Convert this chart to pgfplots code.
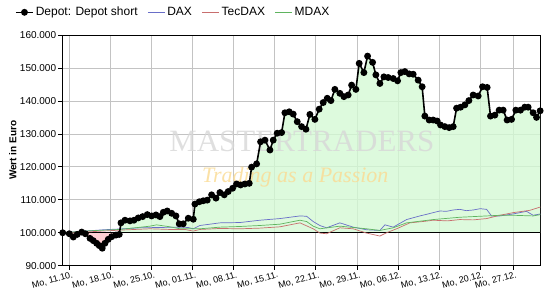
\documentclass[border=0pt]{standalone}
\usepackage{fontspec}
\setmainfont{Liberation Sans}
\newfontfamily\wmserif{Liberation Serif}
\usepackage{pgfplots}
\usepackage{pgfplotstable}
\pgfplotsset{compat=1.18}
\definecolor{gridgray}{RGB}{195,195,195}
\definecolor{posfill}{RGB}{212,249,212}
\definecolor{negfill}{RGB}{255,196,200}
\definecolor{daxc}{RGB}{105,110,200}
\definecolor{tecc}{RGB}{200,110,110}
\definecolor{mdaxc}{RGB}{95,180,95}
\definecolor{wmgray}{RGB}{215,215,215}
\definecolor{wmyellow}{RGB}{250,220,150}

\pgfplotstableread{
t v
-0.80 100.0
0.00 99.7
0.49 98.7
0.97 99.5
1.51 100.2
1.95 99.7
2.52 98.3
2.92 97.6
3.33 96.8
3.65 96.1
4.01 95.3
4.34 96.8
4.74 98.0
5.16 98.8
5.68 99.3
6.08 99.5
6.29 103.0
6.78 103.8
7.39 103.6
7.87 103.8
8.39 104.5
8.93 104.9
9.49 105.5
10.02 105.1
10.55 105.4
11.03 104.9
11.44 106.2
11.92 106.6
12.46 105.9
12.98 105.1
13.38 102.7
13.87 102.7
14.48 104.4
15.09 104.1
15.29 108.7
15.82 109.4
16.30 109.7
16.79 109.9
17.32 111.5
17.85 110.5
18.33 112.2
18.86 111.5
19.34 112.5
19.88 113.5
20.36 114.8
20.85 114.5
21.37 114.8
21.90 115.0
22.19 119.9
22.80 120.9
23.28 127.6
23.81 128.1
24.42 125.1
24.82 128.1
25.30 130.2
25.84 130.4
26.24 136.4
26.76 136.7
27.25 136.0
27.74 133.7
28.27 132.2
28.80 131.4
29.28 135.9
29.89 134.4
30.41 137.5
30.90 139.5
31.39 140.8
31.84 140.1
32.32 143.5
32.93 142.3
33.42 141.3
33.94 141.8
34.36 144.8
34.88 143.5
35.28 151.4
35.85 148.6
36.30 153.6
36.91 151.7
37.31 147.9
37.80 145.3
38.29 147.3
38.81 147.1
39.42 146.8
39.95 146.1
40.35 148.6
40.84 148.9
41.36 148.2
41.85 148.1
42.46 146.3
42.94 144.3
43.27 135.4
43.80 134.2
44.28 134.2
44.77 133.9
45.18 132.7
45.71 132.2
46.23 131.9
46.72 132.2
47.13 137.8
47.62 138.1
48.14 138.8
48.63 140.1
49.15 141.8
49.76 141.5
50.29 144.3
50.85 144.1
51.26 135.4
51.79 135.7
52.31 137.2
52.80 137.2
53.28 134.2
53.82 134.4
54.34 137.2
54.91 137.2
55.43 138.1
55.84 138.1
56.45 136.4
56.86 135.0
57.30 137.0
}\depot

\pgfplotstableread{
t v
-0.85 100.0
4.14 100.9
6.57 101.2
8.60 101.5
11.03 101.6
13.47 101.7
14.44 101.6
15.09 101.2
15.90 102.2
18.33 103.0
20.77 103.1
23.20 103.8
25.63 104.3
28.07 105.1
28.88 105.0
29.68 103.4
30.49 102.2
31.31 101.5
32.93 103.0
34.55 101.7
36.18 100.9
37.80 100.7
38.41 102.4
39.42 101.7
41.05 104.0
42.66 105.1
43.50 105.6
44.28 106.1
45.10 106.6
45.91 106.5
46.70 106.9
47.53 107.1
48.30 106.7
49.15 106.9
50.00 107.3
50.78 107.1
51.39 105.1
52.40 105.1
54.01 105.7
55.64 106.5
56.45 105.3
57.32 105.7
}\dax

\pgfplotstableread{
t v
-0.85 100.0
2.52 100.3
6.20 100.8
9.82 101.2
12.25 101.0
14.08 101.0
15.09 100.5
15.90 101.0
18.33 101.3
20.77 101.2
23.20 101.4
25.63 101.8
28.07 103.0
29.68 101.2
30.49 99.9
31.31 99.7
32.93 101.5
34.55 101.2
36.18 99.9
37.80 99.0
38.61 100.0
39.83 101.2
41.44 103.0
43.00 103.4
44.28 103.8
46.00 103.6
47.53 104.0
49.15 103.9
50.78 104.3
52.40 105.3
54.01 106.1
56.04 106.8
57.32 107.8
}\tecdax

\pgfplotstableread{
t v
-0.85 100.0
2.52 100.6
6.20 101.0
9.82 102.0
10.63 102.4
12.25 101.8
13.47 101.2
15.90 101.2
18.33 101.7
20.77 101.9
23.20 102.2
25.63 102.6
28.07 103.8
28.88 103.4
29.68 102.0
30.49 101.2
32.93 102.0
36.18 101.2
37.80 100.7
39.42 101.5
41.05 103.0
44.28 104.0
47.53 104.7
50.78 105.1
52.40 105.3
54.01 105.3
56.45 105.1
57.32 105.5
}\mdax

\begin{document}
\begin{tikzpicture}
\begin{axis}[
  at={(0,0)}, anchor=south west,
  scale only axis, width=478bp, height=230.7bp,
  xmin=-0.85, xmax=57.32, ymin=90, ymax=160,
  xtick={0,5,10,15,20,25,30,35,40,45,50,54},
  xticklabels={{Mo, 11.10.},{Mo, 18.10.},{Mo, 25.10.},{Mo, 01.11.},{Mo, 08.11.},{Mo, 15.11.},{Mo, 22.11.},{Mo, 29.11.},{Mo, 06.12.},{Mo, 13.12.},{Mo, 20.12.},{Mo, 27.12.}},
  ytick={90,100,110,120,130,140,150,160},
  yticklabels={90.000,100.000,110.000,120.000,130.000,140.000,150.000,160.000},
  xtick pos=bottom, ytick pos=left,
  tick align=outside, major tick length=4bp,
  tick style={black, line width=0.7bp},
  grid=major, major grid style={color=gridgray, line width=0.7bp},
  axis line style={black, line width=0.9bp},
  yticklabel style={inner sep=2bp, font=\fontsize{10bp}{12bp}\selectfont},
  xticklabel style={rotate=15, anchor=north east, inner sep=1bp, xshift=3bp, yshift=-1bp,
    font=\fontsize{9bp}{11bp}\selectfont},
  ylabel={Wert in Euro},
  ylabel style={font=\fontsize{10bp}{12bp}\selectfont\bfseries, yshift=-2bp},
  legend columns=4,
  legend style={at={(-0.099,1.13)}, anchor=north west, draw=none, fill=none,
    font=\fontsize{12bp}{14bp}\selectfont, inner sep=0pt,
    /tikz/every even column/.append style={column sep=8bp}},
  legend cell align=left,
  clip=true,
]
\addlegendimage{black, line width=1.6bp, mark=*, mark size=2.6bp}
\addlegendentry{Depot: Depot short}

% area above 100 (green)
\begin{scope}
\clip (axis cs:-1,100) rectangle (axis cs:58,170);
\addplot[fill=posfill, fill opacity=0.8, draw=none, forget plot] table[x=t,y=v] {\depot}
  -- (axis cs:57.30,100) -- (axis cs:-0.80,100) -- cycle;
\end{scope}
% area below 100 (red)
\begin{scope}
\clip (axis cs:-1,80) rectangle (axis cs:58,100);
\addplot[fill=negfill, fill opacity=0.8, draw=none, forget plot] table[x=t,y=v] {\depot}
  -- (axis cs:57.30,100) -- (axis cs:-0.80,100) -- cycle;
\end{scope}

% watermark
\node[font=\wmserif\fontsize{31bp}{31bp}\selectfont, text=wmgray, text opacity=0.8] at (axis cs:28.3,127.6) {MASTERTRADERS};
\node[font=\wmserif\itshape\fontsize{22bp}{22bp}\selectfont, text=wmyellow, text opacity=0.85] at (axis cs:27.5,117.0) {Trading as a Passion};

\addplot[black, line width=1.2bp, forget plot] coordinates {(-0.85,100) (57.32,100)};

\addplot[daxc, line width=0.7bp] table[x=t,y=v] {\dax};
\addlegendentry{DAX}
\addplot[tecc, line width=0.7bp] table[x=t,y=v] {\tecdax};
\addlegendentry{TecDAX}
\addplot[mdaxc, line width=0.7bp] table[x=t,y=v] {\mdax};
\addlegendentry{MDAX}

\addplot[black, line width=1.6bp, mark=*, mark size=2.6bp, forget plot] table[x=t,y=v] {\depot};

\node[anchor=south east, inner sep=0pt, yshift=5bp, font=\fontsize{10bp}{12bp}\selectfont] at (rel axis cs:1,1) {www.mastertraders.de};
\end{axis}
\pgfresetboundingbox
\path (-62.3bp,-34.3bp) rectangle (487.7bp,265.7bp);
\end{tikzpicture}
\end{document}
